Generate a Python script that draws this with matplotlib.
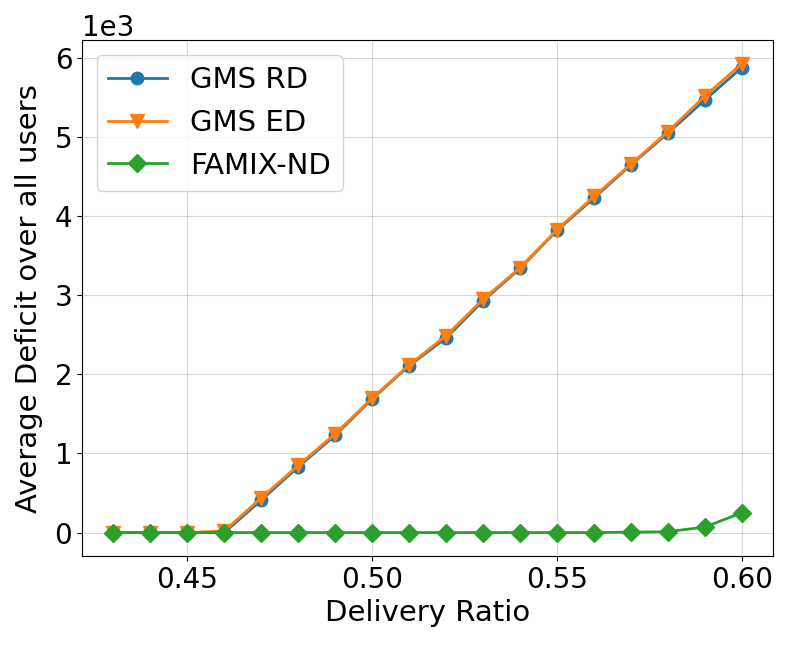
import numpy as np
import matplotlib
matplotlib.use('Agg')
import matplotlib.pyplot as plt

# Delivery ratio values on x axis
delivery_ratio = [0.43, 0.44, 0.45, 0.46, 0.47, 0.48, 0.49, 0.50, 0.51,
                  0.52, 0.53, 0.54, 0.55, 0.56, 0.57, 0.58, 0.59, 0.60]

# Average deficit (in units of 1e3)
gms_rd = [0.0, 0.0, 0.0, 0.0, 0.41, 0.83, 1.23, 1.69, 2.11,
          2.46, 2.93, 3.34, 3.82, 4.23, 4.65, 5.05, 5.47, 5.88]
gms_ed = [0.0, 0.0, 0.0, 0.02, 0.44, 0.85, 1.25, 1.70, 2.12,
          2.49, 2.95, 3.35, 3.83, 4.25, 4.66, 5.07, 5.52, 5.93]
famix_nd = [0.0, 0.0, 0.0, 0.0, 0.0, 0.0, 0.0, 0.0, 0.0,
            0.0, 0.0, 0.0, 0.0, 0.0, 0.005, 0.01, 0.07, 0.25]

plt.rcParams['font.size'] = 20

fig, ax = plt.subplots(figsize=(7.89, 6.48), dpi=100)
ax.plot(delivery_ratio, np.array(gms_rd) * 1e3, marker='o', markersize=9,
        linewidth=2, label='GMS RD')
ax.plot(delivery_ratio, np.array(gms_ed) * 1e3, marker='v', markersize=10,
        linewidth=2, label='GMS ED')
ax.plot(delivery_ratio, np.array(famix_nd) * 1e3, marker='D', markersize=9,
        linewidth=2, label='FAMIX-ND')

ax.set_xlabel('Delivery Ratio', fontsize=21)
ax.set_ylabel('Average Deficit over all users', fontsize=21, labelpad=8)
ax.ticklabel_format(axis='y', style='sci', scilimits=(3, 3))
ax.set_xticks([0.45, 0.50, 0.55, 0.60])
ax.set_xticklabels(['0.45', '0.50', '0.55', '0.60'])
ax.grid(alpha=0.5)
ax.legend(loc='upper left', fontsize=21)

plt.subplots_adjust(left=0.104, right=0.98, top=0.938, bottom=0.142)
plt.savefig('out.png')
plt.close()
